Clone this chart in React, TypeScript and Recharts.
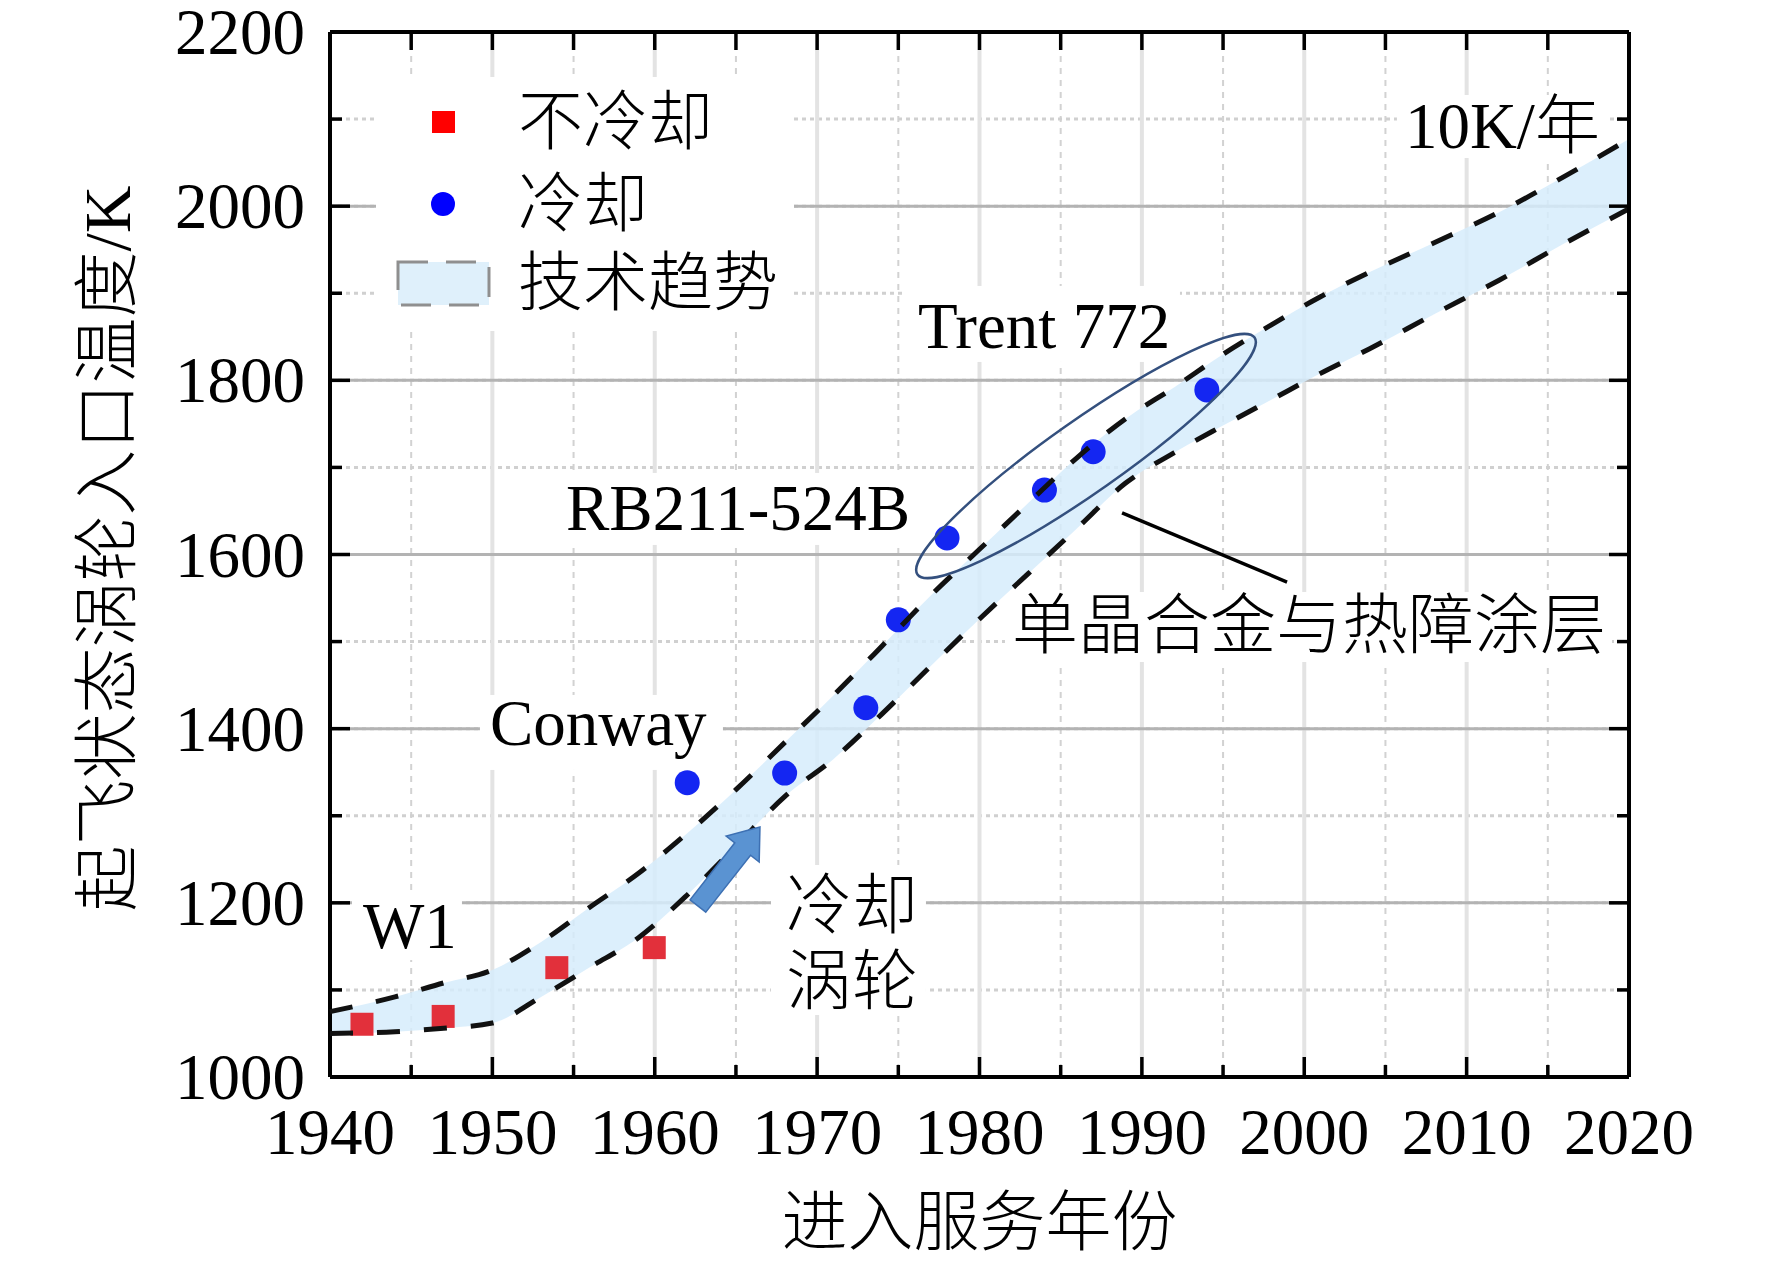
import React from "react";
import {
  ComposedChart,
  Area,
  Line,
  Scatter,
  XAxis,
  YAxis,
  CartesianGrid,
  ReferenceDot,
  ReferenceLine,
  Legend,
  Label,
} from "recharts";

const FONT = "'Liberation Serif', 'Times New Roman', 'Noto Sans CJK SC', serif";

// technology trend band (upper / lower dashed bounds)
const bandYears = [1940, 1944, 1947, 1950, 1953, 1956, 1959, 1962, 1965, 1968, 1971, 1974, 1977, 1980, 1983, 1986, 1989, 1992, 1995, 1998, 2001, 2004, 2008, 2012, 2016, 2020];
const bandUpper = [1075, 1092, 1108, 1123, 1155, 1195, 1234, 1280, 1330, 1384, 1438, 1495, 1553, 1606, 1659, 1711, 1756, 1792, 1830, 1864, 1896, 1924, 1958, 1993, 2034, 2077];
const bandLower = [1050, 1052, 1056, 1062, 1092, 1126, 1160, 1209, 1265, 1322, 1365, 1417, 1472, 1526, 1578, 1630, 1682, 1717, 1748, 1778, 1808, 1836, 1876, 1915, 1957, 1997];

// 不冷却
const uncooledYears = [1942, 1947, 1954, 1960];
const uncooledTemps = [1060, 1069, 1125, 1148];

// 冷却
const cooledYears = [1962, 1968, 1973, 1975, 1978, 1984, 1987, 1994];
const cooledTemps = [1338, 1349, 1424, 1525, 1619, 1674, 1718, 1789];

const yearTicks = [1940, 1945, 1950, 1955, 1960, 1965, 1970, 1975, 1980, 1985, 1990, 1995, 2000, 2005, 2010, 2015, 2020];
const majorYears = [1940, 1950, 1960, 1970, 1980, 1990, 2000, 2010, 2020];
const tempTicks = [1000, 1100, 1200, 1300, 1400, 1500, 1600, 1700, 1800, 1900, 2000, 2100, 2200];
const majorTemps = [1000, 1200, 1400, 1600, 1800, 2000, 2200];

const X_MIN = 1940;
const X_MAX = 2020;
const Y_MIN = 1000;
const Y_MAX = 2200;

const bandRows = bandYears.map((year, i) => ({
  year,
  upper: bandUpper[i],
  lower: bandLower[i],
  band: [bandLower[i], bandUpper[i]],
}));
const uncooledRows = uncooledYears.map((year, i) => ({ year, temp: uncooledTemps[i] }));
const cooledRows = cooledYears.map((year, i) => ({ year, temp: cooledTemps[i] }));

const txt = { fontFamily: FONT, fill: "#000", fontWeight: 300 };

function BottomTick({ x, y, payload }: any) {
  const major = payload.value % 10 === 0;
  return (
    <g>
      <line x1={x} y1={y} x2={x} y2={y - (major ? 20 : 12)} stroke="#000" strokeWidth={3.5} />
      {major && (
        <text x={x} y={y + 55} textAnchor="middle" dominantBaseline="central" fontSize={65} {...txt}>
          {payload.value}
        </text>
      )}
    </g>
  );
}

function LeftTick({ x, y, payload }: any) {
  const major = payload.value % 200 === 0;
  return (
    <g>
      <line x1={x} y1={y} x2={x + (major ? 20 : 12)} y2={y} stroke="#000" strokeWidth={3.5} />
      {major && (
        <text x={x - 25} y={y} textAnchor="end" dominantBaseline="central" fontSize={65} {...txt}>
          {payload.value}
        </text>
      )}
    </g>
  );
}

// mirrored inward ticks on the top and right frame
const topTick = (p: any) => {
  const yt = Math.min(p.y1, p.y2);
  return <line x1={p.x1} y1={yt} x2={p.x1} y2={yt + 18} stroke="#000" strokeWidth={3.5} />;
};
const rightTick = (major: boolean) => (p: any) => {
  const xr = Math.max(p.x1, p.x2);
  return <line x1={xr} y1={p.y1} x2={xr - (major ? 20 : 12)} y2={p.y1} stroke="#000" strokeWidth={3.5} />;
};

// text annotation with a white box behind it (breaks the grid lines like the original)
const note =
  (lines: string[], box: number[], central = false, lineGap = 76) =>
  (p: any) => (
    <g>
      <rect x={p.cx + box[0]} y={p.cy + box[1]} width={box[2]} height={box[3]} fill="#fff" />
      {lines.map((t, i) => (
        <text
          key={i}
          x={p.cx}
          y={p.cy + i * lineGap}
          dominantBaseline={central ? "central" : "alphabetic"}
          fontSize={central ? 66 : 65}
          {...txt}
        >
          {t}
        </text>
      ))}
    </g>
  );

const trentRing = (p: any) => (
  <ellipse
    cx={p.cx}
    cy={p.cy}
    rx={206}
    ry={36}
    transform={`rotate(-35.1 ${p.cx} ${p.cy})`}
    fill="none"
    stroke="#34507e"
    strokeWidth={2.5}
  />
);

const blueArrow = (p: any) => {
  const { x1, y1, x2, y2 } = p;
  const dx = x2 - x1;
  const dy = y2 - y1;
  const len = Math.hypot(dx, dy);
  const ux = dx / len;
  const uy = dy / len;
  const nx = -uy;
  const ny = ux;
  const head = 28;
  const bx = x2 - ux * head;
  const by = y2 - uy * head;
  const pt = (px: number, py: number, k: number) => `${px + nx * k},${py + ny * k}`;
  const pts = [pt(x1, y1, 10), pt(bx, by, 10), pt(bx, by, 21), `${x2},${y2}`, pt(bx, by, -21), pt(bx, by, -10), pt(x1, y1, -10)];
  return <polygon points={pts.join(" ")} fill="#5a93d2" stroke="#3d70b3" strokeWidth={1.5} />;
};

function LegendBox() {
  const t = { ...txt, fontSize: 65, dominantBaseline: "central" as const };
  return (
    <svg width={418} height={254} style={{ display: "block", background: "#fff" }}>
      <rect x={56} y={34} width={23} height={22} fill="#ff0000" />
      <text x={142} y={45} {...t}>不冷却</text>
      <circle cx={67} cy={127} r={12} fill="#0000ff" />
      <text x={142} y={127} {...t}>冷却</text>
      <rect x={22} y={185} width={91} height={43} fill="#dff0fb" stroke="#8f8f8f" strokeWidth={3} strokeDasharray="30 18" />
      <text x={142} y={206} {...t}>技术趋势</text>
    </svg>
  );
}

const xTitle = ({ viewBox }: any) => (
  <text
    x={viewBox.x + viewBox.width / 2}
    y={viewBox.y + 145}
    textAnchor="middle"
    dominantBaseline="central"
    fontSize={66}
    {...txt}
  >
    进入服务年份
  </text>
);

const yTitle = ({ viewBox }: any) => {
  const cx = viewBox.x + 107;
  const cy = viewBox.y + viewBox.height / 2 - 6;
  return (
    <text
      x={cx}
      y={cy}
      transform={`rotate(-90 ${cx} ${cy})`}
      textAnchor="middle"
      dominantBaseline="central"
      fontSize={66}
      {...txt}
    >
      起飞状态涡轮入口温度/K
    </text>
  );
};

export default function App() {
  return (
    <div style={{ position: "absolute", left: 0, top: 0, width: 1772, height: 1266, background: "#fff" }}>
      <ComposedChart width={1772} height={1266} data={bandRows} margin={{ top: 32, right: 143, bottom: 0, left: 0 }}>
        <XAxis
          xAxisId="x"
          dataKey="year"
          type="number"
          domain={[X_MIN, X_MAX]}
          ticks={yearTicks}
          interval={0}
          height={189}
          tickSize={0}
          tickMargin={0}
          tickLine={false}
          tick={<BottomTick />}
          axisLine={{ stroke: "#000", strokeWidth: 4 }}
        >
          <Label content={xTitle} />
        </XAxis>
        <YAxis
          yAxisId="y"
          type="number"
          domain={[Y_MIN, Y_MAX]}
          ticks={tempTicks}
          interval={0}
          width={330}
          tickSize={0}
          tickMargin={0}
          tickLine={false}
          tick={<LeftTick />}
          axisLine={{ stroke: "#000", strokeWidth: 4 }}
        >
          <Label content={yTitle} />
        </YAxis>

        {/* minor grid */}
        <CartesianGrid xAxisId="x" yAxisId="y" horizontal={false} stroke="#d2d2d2" strokeWidth={2} strokeDasharray="6 6" />
        <CartesianGrid xAxisId="x" yAxisId="y" vertical={false} stroke="#d0d0d0" strokeWidth={3} strokeDasharray="4 4" />
        {/* major grid */}
        {majorYears
          .filter((v) => v !== X_MIN && v !== X_MAX)
          .map((v) => (
            <ReferenceLine key={`gx${v}`} xAxisId="x" yAxisId="y" x={v} stroke="#e3e3e3" strokeWidth={4} zIndex={-60} />
          ))}
        {majorTemps
          .filter((v) => v !== Y_MIN && v !== Y_MAX)
          .map((v) => (
            <ReferenceLine key={`gy${v}`} xAxisId="x" yAxisId="y" y={v} stroke="#b3b3b3" strokeWidth={3} zIndex={-50} />
          ))}

        <Legend
          layout="vertical"
          align="center"
          verticalAlign="middle"
          content={<LegendBox />}
          wrapperStyle={{ left: 376, top: 77, width: 418, height: 254 }}
        />

        {/* annotations with white boxes */}
        <ReferenceDot xAxisId="x" yAxisId="y" x={1942.03} y={1148.1} zIndex={50} shape={note(["W1"], [-11, -53, 110, 65])} />
        <ReferenceDot xAxisId="x" yAxisId="y" x={1949.85} y={1381.3} zIndex={50} shape={note(["Conway"], [-10, -50, 243, 75])} />
        <ReferenceDot xAxisId="x" yAxisId="y" x={1954.53} y={1628.2} zIndex={50} shape={note(["RB211-524B"], [-11, -57, 365, 72])} />
        <ReferenceDot xAxisId="x" yAxisId="y" x={1976.21} y={1837.2} zIndex={50} shape={note(["Trent 772"], [-13, -62, 275, 76])} />
        <ReferenceDot xAxisId="x" yAxisId="y" x={2006.2} y={2066.8} zIndex={50} shape={note(["10K/年"], [-8, -53, 211, 63])} />
        <ReferenceDot xAxisId="x" yAxisId="y" x={1968.08} y={1197.5} zIndex={50} shape={note(["冷却", "涡轮"], [-15, -40, 155, 150], true, 76)} />
        <ReferenceDot xAxisId="x" yAxisId="y" x={1982.0} y={1517.9} zIndex={50} shape={note(["单晶合金与热障涂层"], [-7, -34, 607, 70], true)} />

        <Area
          xAxisId="x"
          yAxisId="y"
          dataKey="band"
          type="monotone"
          stroke="none"
          fill="#d6ecfb"
          fillOpacity={0.85}
          isAnimationActive={false}
        />
        <Scatter
          xAxisId="x"
          yAxisId="y"
          name="不冷却"
          data={uncooledRows}
          dataKey="temp"
          isAnimationActive={false}
          shape={(p: any) => <rect x={p.cx - 12} y={p.cy - 12} width={23} height={23} fill="#e2303b" />}
        />
        <Scatter
          xAxisId="x"
          yAxisId="y"
          name="冷却"
          data={cooledRows}
          dataKey="temp"
          isAnimationActive={false}
          shape={(p: any) => <circle cx={p.cx} cy={p.cy} r={12.5} fill="#1426f2" />}
        />
        <Line
          xAxisId="x"
          yAxisId="y"
          dataKey="upper"
          type="monotone"
          stroke="#111"
          strokeWidth={5}
          strokeDasharray="23 24"
          dot={false}
          activeDot={false}
          zIndex={700}
          isAnimationActive={false}
        />
        <Line
          xAxisId="x"
          yAxisId="y"
          dataKey="lower"
          type="monotone"
          stroke="#111"
          strokeWidth={5}
          strokeDasharray="23 24"
          dot={false}
          activeDot={false}
          zIndex={700}
          isAnimationActive={false}
        />

        <ReferenceDot xAxisId="x" yAxisId="y" x={1986.56} y={1713.1} zIndex={800} shape={trentRing} />
        <ReferenceLine
          xAxisId="x"
          yAxisId="y"
          segment={[{ x: 1988.78, y: 1647.7 }, { x: 1998.94, y: 1568.4 }]}
          stroke="#000"
          strokeWidth={3.5}
          zIndex={800}
        />
        <ReferenceLine
          xAxisId="x"
          yAxisId="y"
          segment={[{ x: 1962.66, y: 1196.4 }, { x: 1966.48, y: 1287.1 }]}
          zIndex={800}
          shape={blueArrow}
        />

        {/* top and right frame with inward ticks */}
        <ReferenceLine xAxisId="x" yAxisId="y" y={Y_MAX} stroke="#000" strokeWidth={4} zIndex={900} />
        <ReferenceLine xAxisId="x" yAxisId="y" x={X_MAX} stroke="#000" strokeWidth={4} zIndex={900} />
        {yearTicks.map((v) => (
          <ReferenceLine key={`tt${v}`} xAxisId="x" yAxisId="y" x={v} zIndex={900} shape={topTick} />
        ))}
        {tempTicks.map((v) => (
          <ReferenceLine key={`rt${v}`} xAxisId="x" yAxisId="y" y={v} zIndex={900} shape={rightTick(v % 200 === 0)} />
        ))}
      </ComposedChart>
    </div>
  );
}
